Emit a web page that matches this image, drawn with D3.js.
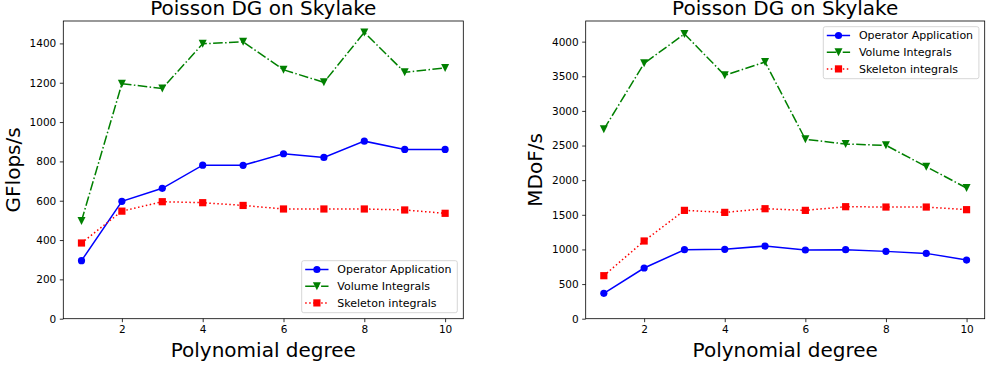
<!DOCTYPE html>
<html>
<head>
<meta charset="utf-8">
<script src="https://cdn.jsdelivr.net/npm/d3@7"></script>
<style>
  body { margin: 0; background: #fff; }
  svg { display: block; font-family: "DejaVu Sans", sans-serif; }
</style>
</head>
<body>
<svg id="chart" width="987" height="370"></svg>
<script>
const degrees = [1, 2, 3, 4, 5, 6, 7, 8, 9, 10];
const xTicks = [2, 4, 6, 8, 10];
const seriesNames = ["Operator Application", "Volume Integrals", "Skeleton integrals"];

// GFlops/s panel
const gflopsOperator = [295, 597, 663, 781, 780, 839, 820, 903, 861, 861];
const gflopsVolume = [497, 1195, 1171, 1398, 1408, 1266, 1202, 1456, 1253, 1275];
const gflopsSkeleton = [385, 547, 595, 590, 576, 558, 558, 558, 553, 536];
const gflopsTicks = [0, 200, 400, 600, 800, 1000, 1200, 1400];

// MDoF/s panel
const mdofOperator = [366, 732, 996, 1001, 1049, 992, 996, 972, 943, 847];
const mdofVolume = [2734, 3687, 4111, 3514, 3706, 2590, 2522, 2503, 2195, 1887];
const mdofSkeleton = [621, 1122, 1564, 1535, 1588, 1564, 1617, 1612, 1612, 1574];
const mdofTicks = [0, 500, 1000, 1500, 2000, 2500, 3000, 3500, 4000];

const styles = [
  { color: "#0000ff", dash: null, marker: "circle" },
  { color: "#008000", dash: "9.6,2.4,1.5,2.4", marker: "tridown" },
  { color: "#ff0000", dash: "1.5,2.5", marker: "square" }
];

const svg = d3.select("#chart");

function drawMarker(g, type, x, y, color) {
  if (type === "circle") {
    g.append("circle").attr("cx", x).attr("cy", y).attr("r", 3.6).attr("fill", color);
  } else if (type === "square") {
    g.append("rect").attr("x", x - 3.6).attr("y", y - 3.6)
      .attr("width", 7.2).attr("height", 7.2).attr("fill", color);
  } else {
    g.append("path")
      .attr("d", `M${x - 4},${y - 4}L${x + 4},${y - 4}L${x},${y + 4}Z`)
      .attr("fill", color);
  }
}

function drawPanel(p) {
  const g = svg.append("g");
  const x = d3.scaleLinear().domain([0.55, 10.45]).range([p.left, p.right]);
  const y = d3.scaleLinear().domain([0, p.yMax]).range([p.bottom, p.top]);

  // y axis
  const yAxis = g.append("g")
    .attr("transform", `translate(${p.left},0)`)
    .call(d3.axisLeft(y).tickValues(p.yTicks).tickSize(3.5).tickPadding(3.5).tickFormat(d3.format("d")));
  // x axis
  const xAxis = g.append("g")
    .attr("transform", `translate(0,${p.bottom})`)
    .call(d3.axisBottom(x).tickValues(xTicks).tickSize(3.5).tickPadding(3.5).tickFormat(d3.format("d")));
  [yAxis, xAxis].forEach(a => {
    a.select(".domain").remove();
    a.selectAll(".tick line").attr("stroke", "#000").attr("stroke-width", 0.8);
    a.selectAll(".tick text").attr("fill", "#000").style("font-size", "10.5px")
      .style("font-family", "DejaVu Sans, sans-serif");
  });

  // frame
  g.append("rect")
    .attr("x", p.left).attr("y", p.top)
    .attr("width", p.right - p.left).attr("height", p.bottom - p.top)
    .attr("fill", "none").attr("stroke", "#000").attr("stroke-width", 0.8);

  const line = d3.line().x((d, i) => x(degrees[i])).y(d => y(d));
  p.series.forEach((vals, k) => {
    const s = styles[k];
    g.append("path").datum(vals)
      .attr("d", line)
      .attr("fill", "none")
      .attr("stroke", s.color)
      .attr("stroke-width", 1.5)
      .attr("stroke-dasharray", s.dash);
    const mg = g.append("g");
    vals.forEach((v, i) => drawMarker(mg, s.marker, x(degrees[i]), y(v), s.color));
  });

  // title (sits partly above the top edge, as in the original)
  g.append("text")
    .attr("x", (p.left + p.right) / 2).attr("y", 15)
    .attr("text-anchor", "middle")
    .style("font-size", "20px")
    .text("Poisson DG on Skylake");

  // labels
  g.append("text")
    .attr("x", (p.left + p.right) / 2).attr("y", 357)
    .attr("text-anchor", "middle")
    .style("font-size", "20px")
    .text("Polynomial degree");
  g.append("text")
    .attr("transform", `translate(${p.yLabelX},${(p.top + p.bottom) / 2}) rotate(-90)`)
    .attr("text-anchor", "middle")
    .style("font-size", "20px")
    .text(p.yLabel);

  // legend
  const lg = g.append("g").attr("transform", `translate(${p.legX},${p.legY})`);
  lg.append("rect")
    .attr("width", 155.6).attr("height", 52)
    .attr("rx", 2).attr("ry", 2)
    .attr("fill", "#fff").attr("fill-opacity", 0.8)
    .attr("stroke", "#cccccc").attr("stroke-width", 0.8);
  seriesNames.forEach((name, k) => {
    const s = styles[k];
    const cy = 8.8 + k * 16.7;
    lg.append("line")
      .attr("x1", 3.5).attr("x2", 26.8).attr("y1", cy).attr("y2", cy)
      .attr("stroke", s.color).attr("stroke-width", 1.5)
      .attr("stroke-dasharray", s.dash);
    drawMarker(lg, s.marker, 15.2, cy, s.color);
    lg.append("text")
      .attr("x", 35.6).attr("y", cy + 4)
      .style("font-size", "11px")
      .text(name);
  });
}

drawPanel({
  left: 63.3, right: 463.3, top: 21, bottom: 318.7,
  yMax: 1514, yTicks: gflopsTicks,
  series: [gflopsOperator, gflopsVolume, gflopsSkeleton],
  yLabel: "GFlops/s", yLabelX: 19.5,
  legX: 301.7, legY: 260.7
});

drawPanel({
  left: 585.7, right: 984.7, top: 21, bottom: 318.7,
  yMax: 4298, yTicks: mdofTicks,
  series: [mdofOperator, mdofVolume, mdofSkeleton],
  yLabel: "MDoF/s", yLabelX: 542,
  legX: 823.3, legY: 26.7
});
</script>
</body>
</html>
